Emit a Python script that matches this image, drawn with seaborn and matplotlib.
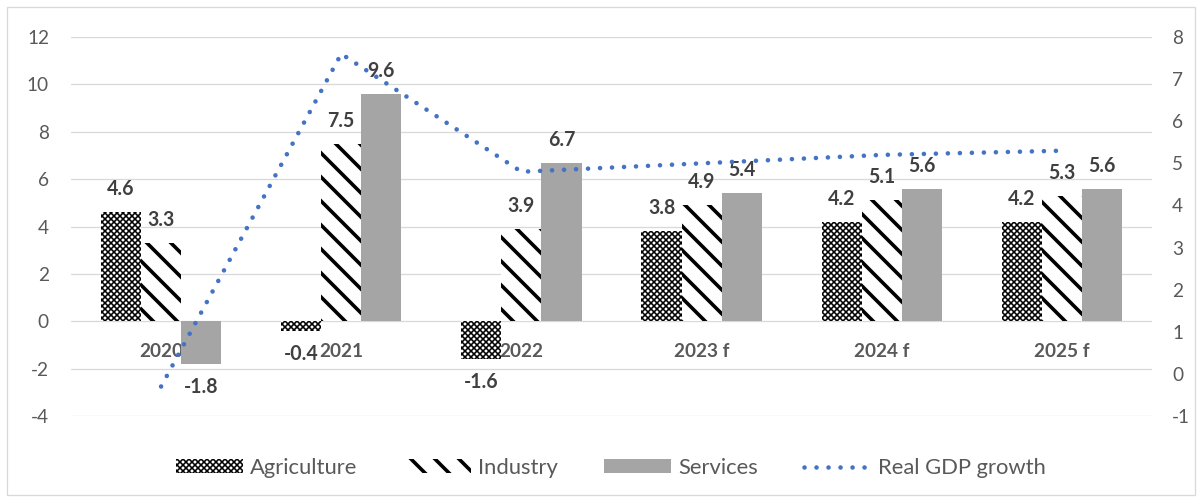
import matplotlib
matplotlib.use("Agg")
import matplotlib.pyplot as plt
from matplotlib.patches import Rectangle
import numpy as np
import pandas as pd
import seaborn as sns

years = ["2020", "2021", "2022", "2023 f", "2024 f", "2025 f"]
sectors = ["Agriculture", "Industry", "Services"]
agriculture = [4.6, -0.4, -1.6, 3.8, 4.2, 4.2]
industry = [3.3, 7.5, 3.9, 4.9, 5.1, 5.3]
services = [-1.8, 9.6, 6.7, 5.4, 5.6, 5.6]
gdp_growth = [-0.3, 7.6, 4.8, 5.0, 5.2, 5.3]

left_ticks = list(range(-4, 13, 2))
right_ticks = list(range(-1, 9))

TXT = "#595959"
LBL = "#404040"
GRID = "#D9D9D9"
BLUE = "#4472C4"
GREY = "#A5A5A5"
FS = 19

sns.set_style("white")
plt.rcParams["font.family"] = ["Lato", "DejaVu Sans"]
plt.rcParams["axes.unicode_minus"] = False

df = pd.DataFrame({
    "year": years * 3,
    "sector": np.repeat(sectors, len(years)),
    "value": agriculture + industry + services,
})

DPI = 72
W, H = 1202, 502
fig = plt.figure(figsize=(W / DPI, H / DPI), dpi=DPI)
ax = fig.add_axes([71 / W, 1 - 416 / H, (1152 - 71) / W, (416 - 37) / H])

sns.barplot(data=df, x="year", y="value", hue="sector", order=years,
            hue_order=sectors,
            palette={"Agriculture": "white", "Industry": "white", "Services": GREY},
            saturation=1, width=0.667, edgecolor="black", linewidth=0,
            legend=False, ax=ax)

hatches = ["xxxx", "\\", None]
hatch_lw = [1.6, 3.6, 0.5]


def style_patch(p, h, hlw):
    if h:
        p.set_hatch(h)
    if hasattr(p, "set_hatch_linewidth"):
        p.set_hatch_linewidth(hlw)


for cont, h, hlw in zip(ax.containers, hatches, hatch_lw):
    for p in cont:
        style_patch(p, h, hlw)
    ax.bar_label(cont, fmt="%.1f", padding=13, fontsize=FS + 0.5,
                 fontweight="bold", color=LBL)

ax.set_ylim(-4, 12)
ax.set_yticks(left_ticks)
ax.set_xlim(-0.5, len(years) - 0.5)
ax.yaxis.grid(True, color=GRID, lw=1.3)
ax.set_axisbelow(True)
for s in ax.spines.values():
    s.set_visible(False)
ax.spines["bottom"].set_position(("data", 0))
ax.tick_params(axis="x", length=0, pad=22, labelsize=FS, labelcolor=TXT)
ax.tick_params(axis="y", length=0, pad=22, labelsize=FS, labelcolor=TXT)
for t in ax.get_xticklabels():
    t.set_fontweight("bold")
ax.set_xlabel("")
ax.set_ylabel("")

ax2 = ax.twinx()
sns.lineplot(x=np.arange(len(years)), y=gdp_growth, ax=ax2, color=BLUE,
             lw=4.6, linestyle=(0, (0.01, 2.6)), dash_capstyle="round",
             label="Real GDP growth", legend=False)
ax2.set_ylim(-1, 8)
ax2.set_yticks(right_ticks)
ax2.set_xlim(-0.5, len(years) - 0.5)
for s in ax2.spines.values():
    s.set_visible(False)
ax2.tick_params(axis="y", length=0, pad=20, labelsize=FS, labelcolor=TXT)
ax2.set_ylabel("")

handles = list(ax.containers) + [ax2.lines[0]]
labels = sectors + ["Real GDP growth"]
leg = fig.legend(handles, labels, loc="center",
                 bbox_to_anchor=(611 / W, 1 - 468 / H),
                 ncol=4, frameon=False, fontsize=22, labelcolor=TXT,
                 handlelength=3.05, handleheight=0.62, handletextpad=0.32,
                 columnspacing=2.1)
for p, h, hlw in zip(leg.get_patches(), hatches, hatch_lw):
    style_patch(p, h, hlw)

fig.add_artist(Rectangle((7 / W, 7 / H), 1188 / W, 488 / H,
                         transform=fig.transFigure, fill=False,
                         edgecolor=GRID, lw=1.3))

fig.savefig("out.png", dpi=DPI)
plt.close(fig)
